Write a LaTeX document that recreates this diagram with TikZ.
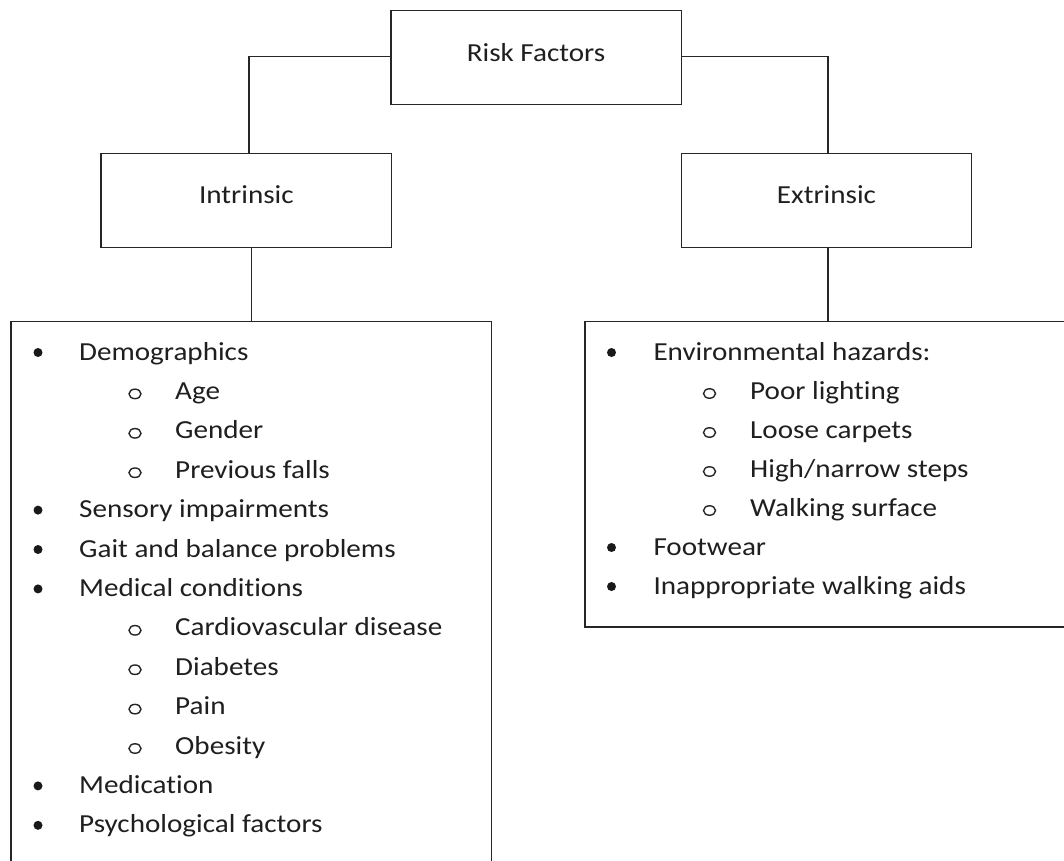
\documentclass[tikz,border=0pt]{standalone}
\usepackage{fontspec}
\setmainfont[FakeStretch=1.12,Ligatures=NoCommon]{Carlito}
\usetikzlibrary{shapes.geometric}
\begin{document}
\begin{tikzpicture}[x=1pt,y=1pt,
  box/.style={draw=black!85,line width=1.2pt,rectangle,inner sep=0pt},
  head/.style={box,minimum width=290.7pt,minimum height=94pt},
  link/.style={draw=black!85,line width=1.2pt},
  txt/.style={anchor=base west,inner sep=0pt,text=black!88,font=\fontsize{26}{30}\selectfont},
  ctxt/.style={anchor=base,inner sep=0pt,text=black!88,font=\fontsize{26}{30}\selectfont},
  dot/.style={circle,fill=black!90,inner sep=0pt,minimum size=9pt},
  ring/.style={ellipse,draw=black!85,line width=1.4pt,inner sep=0pt,minimum width=12pt,minimum height=9.5pt}
]
\useasboundingbox (0,0) rectangle (1064,-860);
\fill[white] (0,0) rectangle (1064,-860);
\clip (0,0) rectangle (1064,-860);

% heading boxes
\node[head] (risk) at (536.3,-57.8) {};
\node[ctxt] (risklbl) at (536,-61.7) {Risk Factors};
\node[head] (intr) at (246.4,-200.2) {};
\node[ctxt] (intrlbl) at (246.4,-203.3) {Intrinsic};
\node[head] (extr) at (826.5,-200.2) {};
\node[ctxt] (extrlbl) at (826.5,-203.3) {Extrinsic};

% list boxes (both run past the page edge)
\node[box,minimum width=480.7pt,minimum height=560pt] (llist) at (251.4,-601.7) {};
\node[box,minimum width=486pt,minimum height=305.7pt] (rlist) at (828,-474.2) {};

% connectors
\draw[link] ([yshift=1pt]risk.west) -| ([xshift=2.5pt]intr.north);
\draw[link] ([yshift=1pt]risk.east) -| ([xshift=1.5pt]extr.north);
\draw[link] (llist.north) -- (llist.north |- intr.south);
\draw[link] (rlist.north) -- (rlist.north |- extr.south);

% left list
\def\sp{39.4}
\foreach \i/\lev/\t in {0/1/Demographics,1/2/Age,2/2/Gender,3/2/Previous falls,
  4/1/Sensory impairments,5/1/Gait and balance problems,6/1/Medical conditions,
  7/2/Cardiovascular disease,8/2/Diabetes,9/2/Pain,10/2/Obesity,
  11/1/Medication,12/1/Psychological factors}{
  \pgfmathsetmacro{\yy}{-360-\i*\sp}
  \ifnum\lev=1
    \node[dot] (lb\i) at (38,\yy+7.5) {};
    \node[txt] (lt\i) at (79,\yy) {\t};
  \else
    \node[ring] (lb\i) at (135,\yy+5.5) {};
    \node[txt] (lt\i) at (175,\yy) {\t};
  \fi
}

% right list
\def\rsp{39}
\foreach \i/\lev/\t in {0/1/Environmental hazards:,1/2/Poor lighting,2/2/Loose carpets,
  3/2/High\slash narrow steps,4/2/Walking surface,5/1/Footwear,6/1/Inappropriate walking aids}{
  \pgfmathsetmacro{\yy}{-360-\i*\rsp}
  \ifnum\lev=1
    \node[dot] (rb\i) at (611.5,\yy+7.5) {};
    \node[txt] (rt\i) at (653.3,\yy) {\t};
  \else
    \node[ring] (rb\i) at (709.5,\yy+5.5) {};
    \node[txt] (rt\i) at (750,\yy) {\t};
  \fi
}
\end{tikzpicture}
\end{document}
